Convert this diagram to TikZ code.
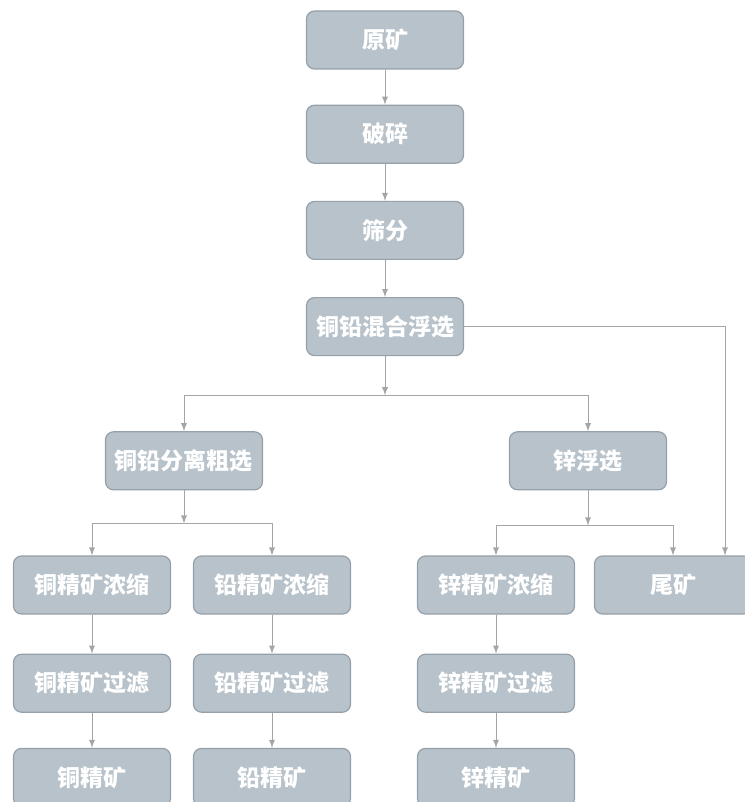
\documentclass[tikz,border=0pt]{standalone}
\usepackage{fontspec}
\newfontfamily\cjk{Noto Sans CJK SC}
\usetikzlibrary{arrows,positioning}
\definecolor{boxfill}{RGB}{183,194,202}
\definecolor{boxline}{RGB}{150,160,168}
\definecolor{wirecol}{RGB}{165,165,165}

\begin{document}
\begin{tikzpicture}[->,
            >=latex,
            node distance=17.5pt,
            semithick,
            proc/.style={rectangle, rounded corners=4pt, draw=boxline,
                fill=boxfill, text=white, minimum width=78.5pt,
                minimum height=29pt, inner sep=0pt,
                font=\cjk\bfseries\fontsize{11.5}{13}\selectfont},
            wire/.style={draw=wirecol, thin},
            every edge/.append style={wire}]

        \useasboundingbox (-192.5pt,20pt) rectangle (179.5pt,-381pt);

        \node[proc] (yk)                                         {原矿};
        \node[proc] (ps)   [below=of yk]                         {破碎};
        \node[proc] (sf)   [below=18.5pt of ps]                  {筛分};
        \node[proc] (hx)   [below=18.5pt of sf]                  {铜铅混合浮选};
        \node[proc] (flcx) [below=37.5pt of hx, xshift=-100.5pt] {铜铅分离粗选};
        \node[proc] (zfx)  [below=37.5pt of hx, xshift=101.5pt]  {锌浮选};
        \node[proc] (tjn)  [below=32.5pt of flcx, xshift=-46pt]  {铜精矿浓缩};
        \node[proc] (qjn)  [below=32.5pt of flcx, xshift=44pt]   {铅精矿浓缩};
        \node[proc] (xjn)  [below=32.5pt of zfx, xshift=-46pt]   {锌精矿浓缩};
        \node[proc] (wk)   [below=32.5pt of zfx, xshift=42.5pt]  {尾矿};
        \node[proc] (tjl)  [below=19.5pt of tjn]                 {铜精矿过滤};
        \node[proc] (qjl)  [below=19.5pt of qjn]                 {铅精矿过滤};
        \node[proc] (xjl)  [below=19.5pt of xjn]                 {锌精矿过滤};
        \node[proc] (tj)   [below=of tjl]                        {铜精矿};
        \node[proc] (qj)   [below=of qjl]                        {铅精矿};
        \node[proc] (xj)   [below=of xjl]                        {锌精矿};

        % branch points
        \coordinate[below=19.5pt of hx]   (j1);
        \coordinate[below=16.5pt of flcx] (j2);
        \coordinate[below=17.5pt of zfx]  (j3);

        \path (yk)   edge (ps)
              (ps)   edge (sf)
              (sf)   edge (hx)
              (hx)   edge (j1)
              (flcx) edge (j2)
              (zfx)  edge (j3)
              (tjn)  edge (tjl)
              (tjl)  edge (tj)
              (qjn)  edge (qjl)
              (qjl)  edge (qj)
              (xjn)  edge (xjl)
              (xjl)  edge (xj);

        \draw[wire] (j1) -| (flcx);
        \draw[wire] (j1) -| (zfx);
        \draw[wire] (j2) -| (tjn);
        \draw[wire] (j2) -| (qjn);
        \draw[wire] (j3) -| (xjn);
        \draw[wire] (j3) -| (wk);
        \draw[wire] (hx.east) -| ([xshift=26pt]wk.north);

    \end{tikzpicture}
\end{document}
